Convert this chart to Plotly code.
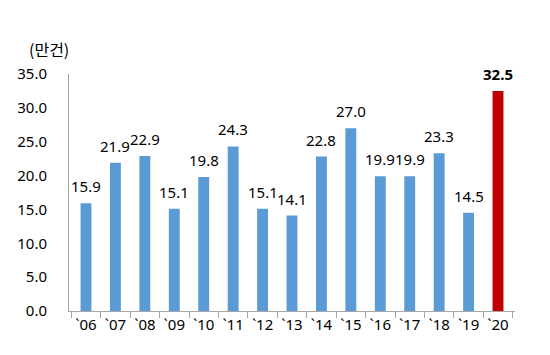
import plotly.graph_objects as go

years = ["`06", "`07", "`08", "`09", "`10", "`11", "`12", "`13", "`14", "`15", "`16", "`17", "`18", "`19", "`20"]
values = [15.9, 21.9, 22.9, 15.1, 19.8, 24.3, 15.1, 14.1, 22.8, 27.0, 19.9, 19.9, 23.3, 14.5, 32.5]
highlight_index = 14
y_ticks = [0, 5, 10, 15, 20, 25, 30, 35]
unit_label = "(만건)"

colors = ["#C00000" if i == highlight_index else "#5B9BD5" for i in range(len(values))]
texts = [f"<b>{v:.1f}</b>" if i == highlight_index else f"{v:.1f}" for i, v in enumerate(values)]

FONT = "Noto Sans, Noto Sans CJK KR, sans-serif"

fig = go.Figure(go.Bar(
    x=years, y=values,
    marker=dict(color=colors, line=dict(width=0)),
    width=0.37,
))

annotations = [dict(
    x=yr, y=v, xref="x", yref="y", text=t, showarrow=False,
    xanchor="center", yanchor="bottom", yshift=5,
    font=dict(family=FONT, size=15, color="#000000"),
) for yr, v, t in zip(years, values, texts)]

annotations.append(dict(
    text=unit_label, xref="paper", yref="paper",
    x=-0.095, y=1.0, yshift=25, xanchor="left", yanchor="middle",
    showarrow=False, font=dict(family="Noto Sans CJK KR, sans-serif", size=16, color="#000000"),
))

fig.update_layout(
    width=550, height=355,
    margin=dict(l=61, r=43, t=66, b=52),
    plot_bgcolor="white", paper_bgcolor="white",
    showlegend=False,
    font=dict(family=FONT, size=15, color="#000000"),
    xaxis=dict(
        showline=True, linecolor="#A6A6A6", linewidth=1,
        ticks="outside", tickson="boundaries", ticklen=6, tickcolor="#A6A6A6",
        tickfont=dict(family=FONT, size=15, color="#000000"),
        tickangle=0, automargin=False,
        showgrid=False,
    ),
    yaxis=dict(
        range=[0, 35], tickvals=y_ticks,
        ticktext=[f"{t:.1f}" for t in y_ticks],
        showline=True, linecolor="#A6A6A6", linewidth=1,
        ticks="", showgrid=False, zeroline=False,
        tickfont=dict(family=FONT, size=15, color="#000000"),
        ticklabelstandoff=18, automargin=False,
    ),
    annotations=annotations,
)

fig.write_html("out.html")
